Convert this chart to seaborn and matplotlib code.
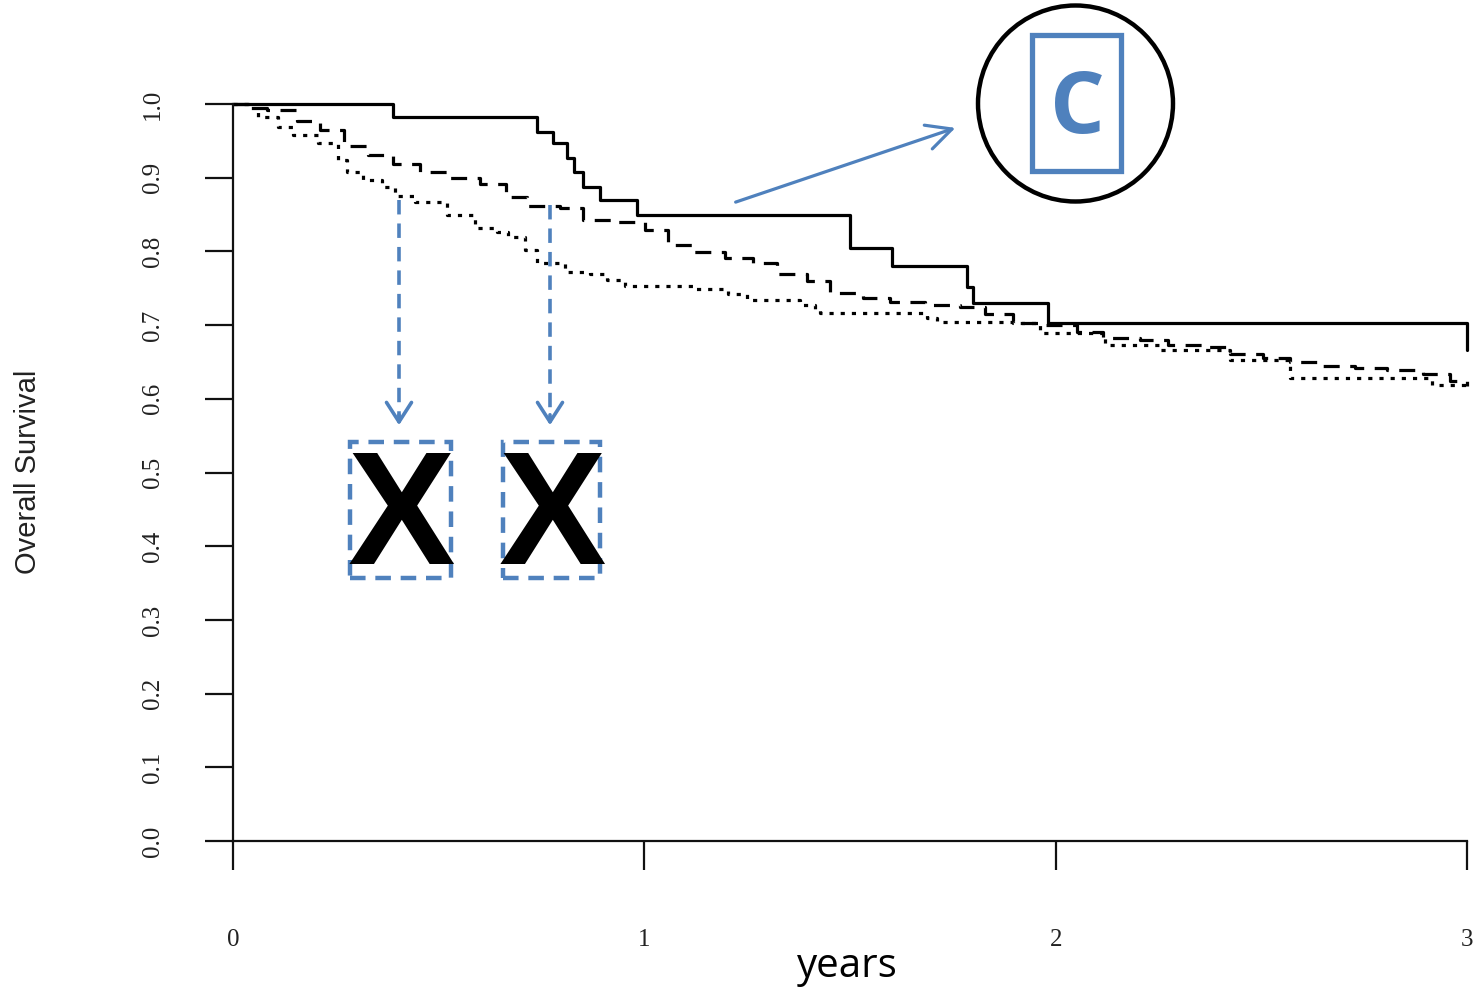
import numpy as np
import pandas as pd
import matplotlib
matplotlib.use("Agg")
import matplotlib.pyplot as plt
import seaborn as sns
from matplotlib.patches import Ellipse, FancyArrowPatch, Rectangle
from matplotlib.lines import Line2D

# ---------------- data ----------------
solid_t = [0.0, 0.389, 0.739, 0.778, 0.812, 0.830, 0.851, 0.892, 0.982, 1.500, 1.602, 1.785, 1.799, 1.982, 3.0]
solid_s = [1.0, 0.982, 0.962, 0.947, 0.927, 0.908, 0.887, 0.870, 0.849, 0.805, 0.780, 0.752, 0.730, 0.703, 0.666]

dashed_t = [0.0, 0.041, 0.083, 0.156, 0.212, 0.270, 0.328, 0.389, 0.455, 0.528, 0.600, 0.664, 0.715, 0.795,
            0.851, 0.934, 1.002, 1.058, 1.121, 1.196, 1.264, 1.323, 1.395, 1.451, 1.532, 1.597, 1.682, 1.767,
            1.828, 1.896, 1.974, 2.052, 2.115, 2.205, 2.273, 2.356, 2.424, 2.504, 2.570, 2.650, 2.728, 2.806,
            2.893, 2.959, 3.0]
dashed_s = [1.0, 0.995, 0.992, 0.977, 0.965, 0.943, 0.931, 0.919, 0.908, 0.900, 0.891, 0.874, 0.862, 0.859,
            0.843, 0.840, 0.829, 0.809, 0.799, 0.791, 0.784, 0.769, 0.760, 0.744, 0.737, 0.731, 0.727, 0.725,
            0.715, 0.703, 0.700, 0.690, 0.683, 0.680, 0.673, 0.670, 0.661, 0.655, 0.650, 0.645, 0.642, 0.639,
            0.633, 0.624, 0.617]

dotted_t = [0.0, 0.036, 0.061, 0.109, 0.146, 0.207, 0.255, 0.277, 0.316, 0.362, 0.394, 0.443, 0.520, 0.588,
            0.642, 0.669, 0.710, 0.739, 0.807, 0.868, 0.909, 0.953, 1.123, 1.203, 1.250, 1.378, 1.415, 1.427,
            1.687, 1.712, 1.896, 1.962, 2.120, 2.254, 2.424, 2.570, 2.915, 3.0]
dotted_s = [1.0, 0.995, 0.982, 0.969, 0.958, 0.947, 0.924, 0.908, 0.897, 0.887, 0.875, 0.867, 0.849, 0.832,
            0.827, 0.820, 0.802, 0.784, 0.772, 0.769, 0.761, 0.753, 0.749, 0.742, 0.734, 0.727, 0.720, 0.716,
            0.710, 0.704, 0.703, 0.689, 0.673, 0.666, 0.653, 0.628, 0.619, 0.613]

x_ticks = [0, 1, 2, 3]
x_tick_labels = ["0", "1", "2", "3"]
y_ticks = [0.0, 0.1, 0.2, 0.3, 0.4, 0.5, 0.6, 0.7, 0.8, 0.9, 1.0]
y_tick_labels = ["0.0", "0.1", "0.2", "0.3", "0.4", "0.5", "0.6", "0.7", "0.8", "0.9", "1.0"]
x_label = "years"
y_label = "Overall Survival"

df = pd.concat([
    pd.DataFrame({"t": solid_t, "s": solid_s, "grp": "solid"}),
    pd.DataFrame({"t": dashed_t, "s": dashed_s, "grp": "dashed"}),
    pd.DataFrame({"t": dotted_t, "s": dotted_s, "grp": "dotted"}),
], ignore_index=True)

# ---------------- figure ----------------
sns.set_theme(style="white")
W, H = 1482, 994
fig = plt.figure(figsize=(W / 100, H / 100), dpi=100)
fig.patch.set_facecolor("white")

def fx(px):
    return px / W

def fy(py):
    return 1 - py / H

ax = fig.add_axes([fx(233), fy(841), fx(1467) - fx(233), fy(104) - fy(841)])
ax.set_facecolor("white")

sns.lineplot(data=df, x="t", y="s", style="grp", color="black",
             style_order=["solid", "dashed", "dotted"],
             dashes={"solid": "", "dashed": (5, 3.3), "dotted": (1.3, 2.2)},
             drawstyle="steps-post", estimator=None, sort=False, legend=False,
             linewidth=2.3, clip_on=False, ax=ax)

ax.set_xlim(0, 3)
ax.set_ylim(0, 1)
ax.set_xlabel("")
ax.set_ylabel("")
for side in ["top", "right"]:
    ax.spines[side].set_visible(False)
for side in ["left", "bottom"]:
    ax.spines[side].set_color("#111111")
    ax.spines[side].set_linewidth(1.6)

ax.set_xticks(x_ticks)
ax.set_xticklabels(x_tick_labels, fontfamily="Liberation Serif", fontsize=18, color="#222222")
ax.set_yticks(y_ticks)
ax.set_yticklabels(y_tick_labels, fontfamily="Liberation Serif", fontsize=18, color="#222222",
                   rotation=90, va="center")
ax.tick_params(axis="x", direction="out", length=21, width=1.6, color="#111111", pad=42, bottom=True)
ax.tick_params(axis="y", direction="out", length=20, width=1.6, color="#111111", pad=30, left=True)

fig.text(fx(28), fy(472), y_label, rotation=90, ha="center", va="center",
         fontfamily="Liberation Sans", fontsize=21, color="#222222")
fig.text(fx(847), fy(967), x_label, ha="center", va="center",
         fontfamily="Open Sans", fontsize=29, color="black")

blue = "#4F81BD"

# arrow toward circled C
fig.add_artist(FancyArrowPatch((fx(733), fy(203)), (fx(958), fy(127)), transform=fig.transFigure,
                               arrowstyle="->,head_length=0.9,head_width=0.45", mutation_scale=20,
                               color=blue, linewidth=2.3))
# circle
fig.add_artist(Ellipse((fx(1075.5), fy(103.5)), 195 / W, 196 / H, transform=fig.transFigure,
                       fill=False, edgecolor="black", linewidth=3.2))
# blue box with C
fig.add_artist(Rectangle((fx(1032), fy(171)), (1121 - 1032) / W, (171 - 35) / H, transform=fig.transFigure,
                         fill=False, edgecolor=blue, linewidth=3.8))
fig.text(fx(1077), fy(110), "C", ha="center", va="center", fontfamily="Open Sans",
         fontweight="bold", fontsize=62, color=blue)

# dashed arrows and X boxes
for xc, y0, bx0, bx1 in [(399, 200, 350, 451), (550, 205, 503, 600)]:
    fig.add_artist(Line2D([fx(xc), fx(xc)], [fy(y0), fy(418)], transform=fig.transFigure,
                          color=blue, linewidth=2.6, linestyle=(0, (4, 2.5))))
    fig.add_artist(FancyArrowPatch((fx(xc), fy(412)), (fx(xc), fy(428)), transform=fig.transFigure,
                                   arrowstyle="->,head_length=0.7,head_width=0.45", mutation_scale=20,
                                   color=blue, linewidth=2.6))
    fig.add_artist(Rectangle((fx(bx0), fy(578)), (bx1 - bx0) / W, (578 - 442) / H, transform=fig.transFigure,
                             fill=False, edgecolor=blue, linewidth=3.2, linestyle=(0, (3.5, 2.2))))
    fig.text(fx((bx0 + bx1) / 2 + 1), fy(522), "X", ha="center", va="center", fontfamily="Liberation Sans",
             fontweight="bold", fontsize=116, color="black", zorder=2)

fig.savefig("out.png", dpi=100, facecolor="white")
